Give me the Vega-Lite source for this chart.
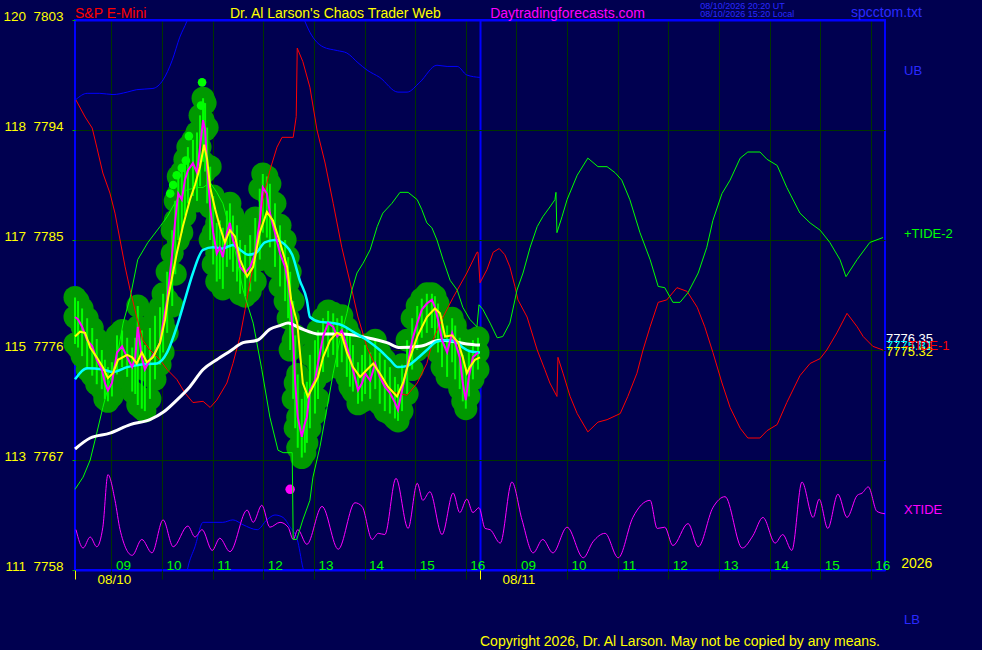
{
  "$schema": "https://vega.github.io/schema/vega-lite/v6.json",
  "width": 810,
  "height": 550,
  "autosize": "none",
  "padding": {"left": 75, "top": 20, "right": 97, "bottom": 80},
  "background": "#000050",
  "datasets": {
    "price": [
      {"t":0,"p":7778.7,"h":7780.3,"l":7776.5},{"t":0.06,"p":7778.5,"h":7780.0,"l":7776.2},{"t":0.14,"p":7777.9,"h":7779.4,"l":7775.5},
      {"t":0.24,"p":7776.8,"h":7778.6,"l":7774.4},{"t":0.34,"p":7776.3,"h":7777.8,"l":7773.9},{"t":0.43,"p":7775.2,"h":7776.9,"l":7773.2},
      {"t":0.53,"p":7774.4,"h":7776.0,"l":7772.8},{"t":0.59,"p":7773.3,"h":7775.2,"l":7772.0},{"t":0.65,"p":7772.7,"h":7774.6,"l":7771.8},
      {"t":0.73,"p":7773.3,"h":7775.0,"l":7772.2},{"t":0.83,"p":7775.8,"h":7777.2,"l":7774.0},{"t":0.93,"p":7776.3,"h":7777.6,"l":7774.6},
      {"t":1.03,"p":7775.4,"h":7777.0,"l":7773.8},{"t":1.13,"p":7774.6,"h":7776.2,"l":7772.6},{"t":1.19,"p":7775.4,"h":7777.0,"l":7772.4},
      {"t":1.24,"p":7777.9,"h":7779.6,"l":7771.5},{"t":1.32,"p":7775.4,"h":7777.6,"l":7771.2},{"t":1.38,"p":7774.4,"h":7776.4,"l":7771.0},
      {"t":1.48,"p":7775.2,"h":7777.8,"l":7772.0},{"t":1.58,"p":7775.8,"h":7778.8,"l":7773.6},{"t":1.68,"p":7776.6,"h":7779.5,"l":7774.8},
      {"t":1.74,"p":7778.2,"h":7780.6,"l":7775.8},{"t":1.82,"p":7780.1,"h":7782.4,"l":7777.4},{"t":1.92,"p":7783.9,"h":7785.8,"l":7779.6},
      {"t":1.98,"p":7786.6,"h":7788.2,"l":7782.2},{"t":2.04,"p":7788.8,"h":7790.2,"l":7785.0},{"t":2.11,"p":7788.3,"h":7790.6,"l":7785.6},
      {"t":2.17,"p":7789.9,"h":7791.6,"l":7787.0},{"t":2.23,"p":7790.7,"h":7792.6,"l":7788.0},{"t":2.33,"p":7791.3,"h":7793.2,"l":7788.6},
      {"t":2.41,"p":7790.5,"h":7793.8,"l":7788.2},{"t":2.47,"p":7792.6,"h":7795.2,"l":7789.4},{"t":2.53,"p":7794.8,"h":7796.6,"l":7791.4},
      {"t":2.57,"p":7794.0,"h":7796.2,"l":7790.6},{"t":2.61,"p":7791.0,"h":7794.2,"l":7788.0},{"t":2.67,"p":7787.7,"h":7791.0,"l":7785.0},
      {"t":2.73,"p":7785.6,"h":7788.6,"l":7783.0},{"t":2.80,"p":7783.9,"h":7786.4,"l":7781.6},{"t":2.86,"p":7784.4,"h":7786.6,"l":7781.8},
      {"t":2.92,"p":7783.6,"h":7786.0,"l":7781.0},{"t":3.00,"p":7785.6,"h":7787.4,"l":7782.8},{"t":3.06,"p":7786.4,"h":7788.0,"l":7783.4},
      {"t":3.12,"p":7785.0,"h":7787.0,"l":7782.4},{"t":3.20,"p":7784.2,"h":7786.2,"l":7781.6},{"t":3.26,"p":7782.8,"h":7785.0,"l":7780.6},
      {"t":3.36,"p":7782.3,"h":7784.6,"l":7780.4},{"t":3.46,"p":7782.8,"h":7785.4,"l":7780.8},{"t":3.56,"p":7783.9,"h":7786.8,"l":7781.6},
      {"t":3.65,"p":7786.6,"h":7789.2,"l":7783.4},{"t":3.71,"p":7789.3,"h":7790.4,"l":7785.6},{"t":3.79,"p":7788.8,"h":7790.2,"l":7785.2},
      {"t":3.85,"p":7787.2,"h":7789.6,"l":7784.4},{"t":3.95,"p":7785.6,"h":7788.0,"l":7782.8},{"t":4.05,"p":7783.9,"h":7786.2,"l":7781.2},
      {"t":4.15,"p":7782.8,"h":7785.0,"l":7780.0},{"t":4.21,"p":7781.5,"h":7783.6,"l":7778.6},{"t":4.25,"p":7780.3,"h":7782.4,"l":7776.0},
      {"t":4.31,"p":7776.8,"h":7780.0,"l":7772.0},{"t":4.35,"p":7773.3,"h":7777.2,"l":7769.6},{"t":4.40,"p":7770.5,"h":7774.0,"l":7768.0},
      {"t":4.48,"p":7768.9,"h":7772.0,"l":7767.2},{"t":4.54,"p":7770.0,"h":7772.6,"l":7767.6},{"t":4.58,"p":7770.5,"h":7773.4,"l":7768.4},
      {"t":4.64,"p":7772.7,"h":7775.6,"l":7769.6},{"t":4.74,"p":7773.5,"h":7776.8,"l":7770.8},{"t":4.80,"p":7774.9,"h":7777.6,"l":7772.0},
      {"t":4.90,"p":7777.1,"h":7778.6,"l":7774.2},{"t":5.00,"p":7778.2,"h":7779.2,"l":7775.4},{"t":5.10,"p":7777.9,"h":7779.0,"l":7775.6},
      {"t":5.18,"p":7777.1,"h":7778.6,"l":7774.6},{"t":5.27,"p":7777.6,"h":7778.8,"l":7775.0},{"t":5.37,"p":7776.3,"h":7777.8,"l":7773.8},
      {"t":5.43,"p":7775.4,"h":7777.2,"l":7773.0},{"t":5.49,"p":7774.4,"h":7776.4,"l":7772.6},{"t":5.59,"p":7772.7,"h":7775.0,"l":7771.6},
      {"t":5.67,"p":7773.3,"h":7775.6,"l":7771.8},{"t":5.73,"p":7774.1,"h":7776.4,"l":7772.4},{"t":5.83,"p":7773.5,"h":7775.8,"l":7772.0},
      {"t":5.93,"p":7774.9,"h":7776.8,"l":7772.8},{"t":6.02,"p":7773.8,"h":7775.8,"l":7771.6},{"t":6.12,"p":7773.0,"h":7775.2,"l":7771.0},
      {"t":6.22,"p":7772.5,"h":7774.6,"l":7770.8},{"t":6.32,"p":7771.7,"h":7773.8,"l":7770.4},{"t":6.38,"p":7771.1,"h":7773.2,"l":7770.2},
      {"t":6.46,"p":7772.7,"h":7774.8,"l":7771.0},{"t":6.56,"p":7774.6,"h":7776.8,"l":7772.4},{"t":6.66,"p":7776.8,"h":7778.6,"l":7774.4},
      {"t":6.76,"p":7778.2,"h":7779.6,"l":7776.0},{"t":6.85,"p":7779.3,"h":7780.2,"l":7777.0},{"t":6.95,"p":7779.8,"h":7780.6,"l":7777.4},
      {"t":7.05,"p":7780.1,"h":7780.6,"l":7777.8},{"t":7.11,"p":7779.5,"h":7780.4,"l":7777.0},{"t":7.17,"p":7778.5,"h":7779.8,"l":7775.8},
      {"t":7.25,"p":7776.8,"h":7778.8,"l":7774.6},{"t":7.35,"p":7775.8,"h":7778.0,"l":7773.8},{"t":7.45,"p":7777.4,"h":7778.6,"l":7775.0},
      {"t":7.51,"p":7776.6,"h":7778.0,"l":7773.6},{"t":7.60,"p":7775.4,"h":7777.0,"l":7772.8},{"t":7.66,"p":7773.3,"h":7775.6,"l":7771.8},
      {"t":7.72,"p":7771.9,"h":7774.6,"l":7771.2},{"t":7.78,"p":7773.8,"h":7776.0,"l":7772.2},{"t":7.86,"p":7775.4,"h":7776.8,"l":7773.6},
      {"t":7.96,"p":7775.8,"h":7777.0,"l":7774.4}
    ],
    "highs": [
      {"t":2.51,"p":7797.9},{"t":2.49,"p":7796.0},{"t":2.25,"p":7793.5},{"t":2.19,"p":7791.5},
      {"t":2.11,"p":7790.9},{"t":2.01,"p":7790.3},{"t":1.94,"p":7789.5},{"t":1.88,"p":7788.8}
    ],
    "signal": [{"t":4.25,"p":7764.6}],
    "tide1": [
      {"t":0.02,"p":7796.45},{"t":0.20,"p":7795.06},{"t":0.34,"p":7794.16},{"t":0.43,"p":7792.6},{"t":0.55,"p":7790.48},
      {"t":0.69,"p":7788.84},{"t":0.79,"p":7787.2},{"t":0.89,"p":7785.0},{"t":0.99,"p":7782.8},{"t":1.09,"p":7780.9},
      {"t":1.22,"p":7778.7},{"t":1.34,"p":7776.8},{"t":1.48,"p":7776.0},{"t":1.68,"p":7775.2},{"t":1.82,"p":7774.4},
      {"t":2.01,"p":7773.6},{"t":2.17,"p":7772.5},{"t":2.33,"p":7771.7},{"t":2.53,"p":7771.8},{"t":2.67,"p":7771.3},
      {"t":2.80,"p":7771.9},{"t":3.00,"p":7773.3},{"t":3.12,"p":7774.9},{"t":3.26,"p":7777.1},{"t":3.36,"p":7779.3},
      {"t":3.44,"p":7781.2},{"t":3.60,"p":7784.4},{"t":3.71,"p":7788.3},{"t":3.85,"p":7790.7},{"t":3.99,"p":7792.6},
      {"t":4.09,"p":7793.4},{"t":4.31,"p":7793.4},{"t":4.37,"p":7795.1},{"t":4.39,"p":7800.7},{"t":4.50,"p":7799.6},
      {"t":4.64,"p":7797.5},{"t":4.78,"p":7794.0},{"t":4.94,"p":7791.3},{"t":5.10,"p":7788.0},{"t":5.27,"p":7784.4},
      {"t":5.39,"p":7782.3},{"t":5.47,"p":7780.9},{"t":5.59,"p":7778.7},{"t":5.77,"p":7776.2},{"t":5.97,"p":7774.4},
      {"t":6.12,"p":7773.3},{"t":6.32,"p":7772.5},{"t":6.56,"p":7772.3},{"t":6.76,"p":7773.3},{"t":6.95,"p":7774.9},
      {"t":7.07,"p":7776.8},{"t":7.27,"p":7778.7},{"t":7.47,"p":7780.3},{"t":7.74,"p":7782.3},{"t":7.94,"p":7784.0},
      {"t":7.96,"p":7784.0},{"t":8.00,"p":7781.5},{"t":8.14,"p":7782.6},{"t":8.26,"p":7784.0},{"t":8.38,"p":7784.3},
      {"t":8.49,"p":7783.8},{"t":8.59,"p":7782.8},{"t":8.69,"p":7781.2},{"t":8.75,"p":7780.1},{"t":8.93,"p":7778.7},
      {"t":9.13,"p":7776.0},{"t":9.28,"p":7774.4},{"t":9.38,"p":7773.3},{"t":9.52,"p":7772.2},{"t":9.54,"p":7775.4},
      {"t":9.64,"p":7774.1},{"t":9.78,"p":7772.2},{"t":9.92,"p":7770.8},{"t":10.13,"p":7769.3},{"t":10.33,"p":7770.1},
      {"t":10.51,"p":7770.3},{"t":10.77,"p":7770.8},{"t":10.92,"p":7772.2},{"t":11.10,"p":7774.1},{"t":11.22,"p":7776.0},
      {"t":11.36,"p":7777.9},{"t":11.52,"p":7779.9},{"t":11.69,"p":7780.1},{"t":11.89,"p":7781.1},{"t":12.09,"p":7780.8},
      {"t":12.29,"p":7779.5},{"t":12.44,"p":7777.9},{"t":12.60,"p":7775.8},{"t":12.78,"p":7773.3},{"t":12.94,"p":7771.3},
      {"t":13.14,"p":7769.6},{"t":13.29,"p":7768.8},{"t":13.53,"p":7768.8},{"t":13.67,"p":7769.4},{"t":13.87,"p":7769.9},
      {"t":14.06,"p":7771.7},{"t":14.32,"p":7773.9},{"t":14.52,"p":7774.9},{"t":14.72,"p":7775.3},{"t":14.85,"p":7776.0},
      {"t":15.05,"p":7777.4},{"t":15.25,"p":7779.0},{"t":15.45,"p":7777.9},{"t":15.57,"p":7777.1},{"t":15.76,"p":7776.3},
      {"t":15.96,"p":7776.0}
    ],
    "tide2": [
      {"t":0,"p":7764.6},{"t":0.16,"p":7765.6},{"t":0.30,"p":7767.0},{"t":0.43,"p":7769.2},{"t":0.55,"p":7771.3},
      {"t":0.69,"p":7773.5},{"t":0.83,"p":7775.4},{"t":0.95,"p":7778.2},{"t":1.09,"p":7780.3},{"t":1.24,"p":7783.4},
      {"t":1.44,"p":7784.8},{"t":1.68,"p":7786.1},{"t":1.82,"p":7786.9},{"t":2.01,"p":7788.3},{"t":2.21,"p":7789.1},
      {"t":2.41,"p":7789.3},{"t":2.53,"p":7789.3},{"t":2.67,"p":7789.7},{"t":2.80,"p":7788.9},{"t":2.92,"p":7788.0},
      {"t":3.12,"p":7785.0},{"t":3.32,"p":7780.9},{"t":3.52,"p":7778.2},{"t":3.69,"p":7774.4},{"t":3.85,"p":7770.5},
      {"t":4.01,"p":7767.8},{"t":4.11,"p":7767.6},{"t":4.29,"p":7767.6},{"t":4.31,"p":7760.5},{"t":4.38,"p":7760.5},
      {"t":4.50,"p":7762.1},{"t":4.64,"p":7763.7},{"t":4.70,"p":7765.6},{"t":4.84,"p":7768.1},{"t":4.98,"p":7771.3},
      {"t":5.10,"p":7774.1},{"t":5.23,"p":7776.8},{"t":5.37,"p":7779.0},{"t":5.47,"p":7780.9},{"t":5.57,"p":7782.3},
      {"t":5.69,"p":7783.1},{"t":5.83,"p":7784.2},{"t":5.97,"p":7786.1},{"t":6.08,"p":7787.2},{"t":6.26,"p":7788.0},
      {"t":6.42,"p":7788.9},{"t":6.58,"p":7788.9},{"t":6.76,"p":7788.3},{"t":6.85,"p":7787.5},{"t":6.95,"p":7786.4},
      {"t":7.05,"p":7786.0},{"t":7.15,"p":7785.0},{"t":7.27,"p":7783.4},{"t":7.41,"p":7781.7},{"t":7.55,"p":7780.9},
      {"t":7.66,"p":7779.5},{"t":7.80,"p":7778.5},{"t":7.94,"p":7777.9},{"t":7.98,"p":7779.7},{"t":8.06,"p":7779.3},
      {"t":8.20,"p":7778.2},{"t":8.34,"p":7777.0},{"t":8.45,"p":7777.1},{"t":8.59,"p":7778.2},{"t":8.69,"p":7780.1},
      {"t":8.73,"p":7780.9},{"t":8.85,"p":7782.3},{"t":8.99,"p":7784.4},{"t":9.13,"p":7786.1},{"t":9.24,"p":7786.9},
      {"t":9.38,"p":7787.7},{"t":9.48,"p":7788.3},{"t":9.50,"p":7788.9},{"t":9.52,"p":7785.6},{"t":9.62,"p":7786.9},
      {"t":9.72,"p":7788.3},{"t":9.92,"p":7790.3},{"t":10.13,"p":7791.7},{"t":10.33,"p":7791.0},{"t":10.51,"p":7791.0},
      {"t":10.67,"p":7790.5},{"t":10.80,"p":7789.9},{"t":10.96,"p":7788.3},{"t":11.16,"p":7785.6},{"t":11.36,"p":7783.4},
      {"t":11.52,"p":7781.2},{"t":11.65,"p":7781.1},{"t":11.81,"p":7779.9},{"t":11.95,"p":7779.9},{"t":12.11,"p":7780.7},
      {"t":12.31,"p":7782.3},{"t":12.48,"p":7784.4},{"t":12.60,"p":7786.6},{"t":12.78,"p":7788.8},{"t":12.94,"p":7789.9},
      {"t":13.14,"p":7791.7},{"t":13.29,"p":7792.2},{"t":13.53,"p":7792.2},{"t":13.67,"p":7791.6},{"t":13.87,"p":7791.1},
      {"t":14.06,"p":7789.3},{"t":14.32,"p":7787.2},{"t":14.52,"p":7786.4},{"t":14.72,"p":7785.8},{"t":14.91,"p":7784.8},
      {"t":15.11,"p":7783.4},{"t":15.23,"p":7782.0},{"t":15.45,"p":7783.4},{"t":15.70,"p":7784.8},{"t":15.96,"p":7785.2}
    ],
    "ub": [
      {"t":0.02,"p":7796.5},{"t":0.24,"p":7797.0},{"t":0.49,"p":7797.0},{"t":0.75,"p":7796.9},{"t":1.03,"p":7797.1},
      {"t":1.22,"p":7797.3},{"t":1.54,"p":7797.4},{"t":1.74,"p":7798.1},{"t":1.92,"p":7799.7},{"t":2.07,"p":7801.6},
      {"t":2.21,"p":7802.9},{"t":2.47,"p":7806.5},{"t":3.26,"p":7809.0},{"t":4.05,"p":7807.5},{"t":4.44,"p":7804.0},
      {"t":4.54,"p":7802.9},{"t":4.64,"p":7802.0},{"t":4.90,"p":7800.8},{"t":5.18,"p":7800.5},{"t":5.37,"p":7800.3},
      {"t":5.59,"p":7799.5},{"t":5.77,"p":7798.9},{"t":6.02,"p":7798.3},{"t":6.38,"p":7797.1},{"t":6.56,"p":7797.1},
      {"t":6.81,"p":7797.9},{"t":7.15,"p":7799.3},{"t":7.35,"p":7799.2},{"t":7.55,"p":7799.2},{"t":7.74,"p":7798.5},
      {"t":8.0,"p":7798.3}
    ],
    "lb": [
      {"t":2.15,"p":7756.4},{"t":2.23,"p":7758.2},{"t":2.37,"p":7759.9},{"t":2.53,"p":7761.9},{"t":2.73,"p":7761.9},
      {"t":2.92,"p":7761.9},{"t":3.12,"p":7762.1},{"t":3.32,"p":7761.7},{"t":3.60,"p":7761.3},{"t":3.79,"p":7762.1},
      {"t":3.95,"p":7762.5},{"t":4.11,"p":7762.3},{"t":4.25,"p":7761.5},{"t":4.39,"p":7760.5},{"t":4.50,"p":7758.2},
      {"t":4.60,"p":7756.4}
    ],
    "xtide": [
      {"t":0.02,"p":7761.3},{"t":0.16,"p":7759.8},{"t":0.30,"p":7760.7},{"t":0.43,"p":7759.9},{"t":0.55,"p":7761.5},
      {"t":0.65,"p":7765.8},{"t":0.79,"p":7763.7},{"t":0.89,"p":7761.3},{"t":1.13,"p":7759.2},{"t":1.32,"p":7760.5},
      {"t":1.52,"p":7759.4},{"t":1.74,"p":7762.1},{"t":1.94,"p":7759.9},{"t":2.23,"p":7761.6},{"t":2.37,"p":7760.7},
      {"t":2.51,"p":7761.3},{"t":2.71,"p":7759.6},{"t":2.86,"p":7760.6},{"t":3.06,"p":7759.5},{"t":3.40,"p":7762.9},
      {"t":3.52,"p":7761.9},{"t":3.69,"p":7763.3},{"t":3.85,"p":7761.5},{"t":4.05,"p":7761.9},{"t":4.21,"p":7761.5},
      {"t":4.31,"p":7760.5},{"t":4.40,"p":7761.3},{"t":4.58,"p":7760.1},{"t":4.88,"p":7763.2},{"t":5.20,"p":7759.7},
      {"t":5.53,"p":7763.5},{"t":5.67,"p":7763.2},{"t":5.87,"p":7760.5},{"t":5.99,"p":7761.0},{"t":6.12,"p":7760.9},
      {"t":6.34,"p":7765.5},{"t":6.58,"p":7761.4},{"t":6.76,"p":7765.1},{"t":6.87,"p":7763.7},{"t":7.01,"p":7764.4},
      {"t":7.25,"p":7760.9},{"t":7.47,"p":7764.3},{"t":7.60,"p":7762.7},{"t":7.74,"p":7763.8},{"t":7.86,"p":7762.7},
      {"t":7.98,"p":7763.1},{"t":8.10,"p":7761.4},{"t":8.20,"p":7761.3},{"t":8.40,"p":7760.2},{"t":8.63,"p":7765.2},
      {"t":8.83,"p":7762.1},{"t":9.05,"p":7759.4},{"t":9.24,"p":7760.5},{"t":9.44,"p":7759.4},{"t":9.72,"p":7761.5},
      {"t":10.04,"p":7759.0},{"t":10.23,"p":7760.3},{"t":10.47,"p":7761.0},{"t":10.73,"p":7759.0},{"t":11.02,"p":7762.3},
      {"t":11.36,"p":7763.7},{"t":11.50,"p":7761.4},{"t":11.65,"p":7761.5},{"t":11.81,"p":7760.0},{"t":12.11,"p":7761.8},
      {"t":12.31,"p":7759.9},{"t":12.60,"p":7763.1},{"t":12.84,"p":7764.0},{"t":13.18,"p":7759.8},{"t":13.39,"p":7760.8},
      {"t":13.59,"p":7762.3},{"t":13.83,"p":7760.2},{"t":13.98,"p":7760.9},{"t":14.16,"p":7759.6},{"t":14.36,"p":7765.2},
      {"t":14.58,"p":7762.3},{"t":14.70,"p":7763.8},{"t":14.87,"p":7761.4},{"t":15.07,"p":7764.2},{"t":15.25,"p":7762.3},
      {"t":15.45,"p":7764.1},{"t":15.55,"p":7764.3},{"t":15.67,"p":7764.8},{"t":15.84,"p":7762.8},{"t":16.0,"p":7762.6}
    ],
    "slow": [
      {"t":0,"p":7767.9},{"t":0.30,"p":7768.8},{"t":0.69,"p":7769.2},{"t":1.09,"p":7769.9},{"t":1.48,"p":7770.3},
      {"t":1.74,"p":7770.9},{"t":2.01,"p":7771.9},{"t":2.27,"p":7773.0},{"t":2.53,"p":7774.4},{"t":2.80,"p":7775.2},
      {"t":3.06,"p":7775.9},{"t":3.32,"p":7776.6},{"t":3.60,"p":7776.8},{"t":3.85,"p":7777.7},{"t":4.05,"p":7778.0},
      {"t":4.21,"p":7778.2},{"t":4.44,"p":7777.8},{"t":4.84,"p":7777.3},{"t":5.29,"p":7777.3},{"t":5.77,"p":7777.0},
      {"t":6.16,"p":7776.6},{"t":6.42,"p":7776.2},{"t":6.81,"p":7776.3},{"t":7.21,"p":7776.8},{"t":7.47,"p":7776.7},
      {"t":7.74,"p":7776.5},{"t":8.0,"p":7776.4}
    ],
    "mid": [
      {"t":0,"p":7773.6},{"t":0.24,"p":7774.5},{"t":0.55,"p":7774.4},{"t":0.75,"p":7774.2},{"t":1.03,"p":7774.6},
      {"t":1.28,"p":7774.8},{"t":1.62,"p":7774.9},{"t":1.82,"p":7775.8},{"t":2.01,"p":7777.9},{"t":2.17,"p":7780.1},
      {"t":2.33,"p":7782.3},{"t":2.53,"p":7784.2},{"t":2.73,"p":7784.4},{"t":2.92,"p":7784.3},{"t":3.12,"p":7784.6},
      {"t":3.26,"p":7784.2},{"t":3.42,"p":7783.8},{"t":3.56,"p":7783.9},{"t":3.75,"p":7784.8},{"t":3.95,"p":7785.0},
      {"t":4.15,"p":7784.6},{"t":4.29,"p":7783.8},{"t":4.44,"p":7781.7},{"t":4.58,"p":7780.1},{"t":4.64,"p":7778.7},
      {"t":4.84,"p":7778.3},{"t":5.10,"p":7778.2},{"t":5.29,"p":7778.0},{"t":5.49,"p":7777.5},{"t":5.77,"p":7776.8},
      {"t":6.02,"p":7776.0},{"t":6.22,"p":7775.2},{"t":6.38,"p":7774.6},{"t":6.56,"p":7774.7},{"t":6.76,"p":7775.3},
      {"t":6.95,"p":7776.0},{"t":7.15,"p":7776.7},{"t":7.35,"p":7776.8},{"t":7.55,"p":7776.6},{"t":7.66,"p":7776.2},
      {"t":7.80,"p":7775.9},{"t":8.0,"p":7775.8}
    ],
    "fast": [
      {"t":0,"p":7777.1},{"t":0.10,"p":7777.5},{"t":0.20,"p":7777.4},{"t":0.30,"p":7776.2},{"t":0.43,"p":7775.4},
      {"t":0.55,"p":7774.6},{"t":0.65,"p":7773.7},{"t":0.75,"p":7774.1},{"t":0.85,"p":7775.2},{"t":1.03,"p":7775.6},
      {"t":1.13,"p":7775.4},{"t":1.22,"p":7774.9},{"t":1.32,"p":7775.8},{"t":1.42,"p":7775.0},{"t":1.54,"p":7775.4},
      {"t":1.68,"p":7776.6},{"t":1.78,"p":7778.5},{"t":1.84,"p":7780.3},{"t":2.01,"p":7783.9},{"t":2.13,"p":7786.1},
      {"t":2.27,"p":7788.3},{"t":2.37,"p":7789.5},{"t":2.47,"p":7791.0},{"t":2.55,"p":7792.8},{"t":2.61,"p":7791.6},
      {"t":2.67,"p":7789.3},{"t":2.77,"p":7787.5},{"t":2.86,"p":7786.1},{"t":2.96,"p":7784.8},{"t":3.06,"p":7785.8},
      {"t":3.16,"p":7785.3},{"t":3.26,"p":7783.4},{"t":3.40,"p":7782.0},{"t":3.52,"p":7782.8},{"t":3.65,"p":7785.6},
      {"t":3.79,"p":7787.3},{"t":3.91,"p":7786.6},{"t":4.05,"p":7784.8},{"t":4.19,"p":7782.8},{"t":4.27,"p":7780.1},
      {"t":4.39,"p":7778.2},{"t":4.50,"p":7773.3},{"t":4.60,"p":7772.2},{"t":4.70,"p":7773.0},{"t":4.80,"p":7773.8},
      {"t":4.90,"p":7775.4},{"t":5.04,"p":7776.8},{"t":5.17,"p":7777.4},{"t":5.27,"p":7777.2},{"t":5.37,"p":7775.8},
      {"t":5.49,"p":7774.6},{"t":5.63,"p":7773.8},{"t":5.77,"p":7774.4},{"t":5.89,"p":7774.9},{"t":6.02,"p":7774.1},
      {"t":6.18,"p":7773.0},{"t":6.36,"p":7772.2},{"t":6.48,"p":7773.3},{"t":6.62,"p":7775.4},{"t":6.76,"p":7777.1},
      {"t":6.95,"p":7778.7},{"t":7.11,"p":7779.4},{"t":7.21,"p":7779.0},{"t":7.31,"p":7777.1},{"t":7.45,"p":7777.2},
      {"t":7.57,"p":7776.6},{"t":7.66,"p":7775.4},{"t":7.74,"p":7774.1},{"t":7.80,"p":7774.6},{"t":7.90,"p":7775.2},
      {"t":8.0,"p":7775.4}
    ],
    "notes": [
      {"t":0,"p":7803.17,"text":"S&P E-Mini","role":"symbol"},
      {"t":3.06,"p":7803.17,"text":"Dr. Al Larson's Chaos Trader Web","role":"brand"},
      {"t":8.2,"p":7803.2,"text":"Daytradingforecasts.com","role":"site"},
      {"t":15.33,"p":7803.27,"text":"spcctom.txt","role":"file"},
      {"t":8.0,"p":7751.8,"text":"Copyright 2026, Dr. Al Larson. May not be copied by any means.","role":"brand"},
      {"t":16.32,"p":7758.2,"text":"2026","role":"brand"}
    ],
    "stamps": [
      {"t":12.35,"p":7803.94,"text":"08/10/2026 20:20 UT"},
      {"t":12.35,"p":7803.25,"text":"08/10/2026 15:20 Local"}
    ],
    "values": [
      {"t":16,"p":7776.9,"text":"7776.35","role":"slow"},
      {"t":16,"p":7776.3,"text":"7775.81","role":"mid"},
      {"t":16,"p":7775.8,"text":"7775.32","role":"fast"}
    ],
    "names": [
      {"t":16,"p":7798.8,"text":"UB","role":"ub"},
      {"t":16,"p":7785.5,"text":"+TIDE-2","role":"tide2"},
      {"t":16,"p":7776.3,"text":"-TIDE-1","role":"tide1"},
      {"t":16,"p":7762.9,"text":"XTIDE","role":"xtide"},
      {"t":16,"p":7753.9,"text":"LB","role":"lb"}
    ]
  },
  "encoding": {
    "x": {
      "field": "t",
      "type": "quantitative",
      "scale": {"domain": [0, 16], "nice": false, "zero": false},
      "axis": {
        "values": [0, 0.72, 1.72, 2.72, 3.72, 4.72, 5.72, 6.72, 7.72, 8, 8.72, 9.72, 10.72, 11.72, 12.72, 13.72, 14.72, 15.72],
        "title": null,
        "domain": false,
        "grid": true,
        "gridColor": {"condition": {"test": "datum.value == 0 || datum.value == 8", "value": "#0000ff"}, "value": "#003300"},
        "gridWidth": {"condition": {"test": "datum.value == 8", "value": 2}, "value": 1},
        "tickSize": 9,
        "tickColor": {"condition": {"test": "datum.value == 0 || datum.value == 8", "value": "#ffff00"}, "value": "#003300"},
        "labelExpr": "datum.value == 0 ? '08/10' : datum.value == 8 ? '08/11' : format(round(datum.value % 8 + 8.28), '02d')",
        "labelColor": {"condition": {"test": "datum.value == 0 || datum.value == 8", "value": "#ffff00"}, "value": "#00ff00"},
        "labelAlign": "left",
        "labelBaseline": "alphabetic",
        "labelPadding": {"condition": {"test": "datum.value == 0 || datum.value == 8", "value": 4}, "value": -10},
        "labelOffset": {"condition": {"test": "datum.value == 0 || datum.value == 8", "value": 22}, "value": 4},
        "labelFontSize": 13.5,
        "labelOverlap": false,
        "labelFlush": false
      }
    },
    "y": {
      "field": "p",
      "type": "quantitative",
      "scale": {"domain": [7758, 7803], "nice": false, "zero": false},
      "axis": {
        "values": [7758, 7767, 7776, 7785, 7794, 7803],
        "title": null,
        "domain": false,
        "grid": true,
        "gridColor": {"condition": {"test": "datum.value == 7758 || datum.value == 7803", "value": "#0000ff"}, "value": "#003300"},
        "gridWidth": {"condition": {"test": "datum.value == 7758 || datum.value == 7803", "value": 2}, "value": 1},
        "tickSize": 3,
        "tickColor": "#00aa00",
        "labelColor": "#ffff00",
        "labelFontSize": 13.5,
        "labelPadding": 9,
        "labelBaseline": "alphabetic",
        "labelExpr": "(datum.value == 7803 ? '120' : datum.value == 7794 ? '118' : datum.value == 7785 ? '117' : datum.value == 7776 ? '115' : datum.value == 7767 ? '113' : '111') + '\u00a0 ' + datum.value",
        "labelOverlap": false,
        "labelFlush": false
      }
    }
  },
  "layer": [
    {
      "data": {"name": "price"},
      "transform": [{"fold": ["p", "h", "l"], "as": ["k", "p"]}],
      "mark": {"type": "circle", "size": 530, "color": "#009900", "opacity": 1}
    },
    {
      "data": {"name": "price"},
      "transform": [{"fold": ["h"], "as": ["k", "p"]}],
      "mark": {"type": "rule", "color": "#00ff00", "strokeWidth": 2},
      "encoding": {
        "y2": {"field": "l"}
      }
    },
    {
      "data": {"name": "highs"},
      "mark": {"type": "circle", "size": 75, "color": "#00ff00", "opacity": 1}
    },
    {
      "data": {"name": "signal"},
      "mark": {"type": "circle", "size": 90, "color": "#ff00ff", "opacity": 1}
    },
    {
      "data": {"name": "ub"},
      "mark": {"type": "line", "color": "#0000ff", "strokeWidth": 1, "clip": true, "interpolate": "monotone"}
    },
    {
      "data": {"name": "lb"},
      "mark": {"type": "line", "color": "#0000ff", "strokeWidth": 1, "clip": true, "interpolate": "monotone"}
    },
    {
      "data": {"name": "xtide"},
      "mark": {"type": "line", "color": "#ff00ff", "strokeWidth": 1, "interpolate": "monotone"}
    },
    {
      "data": {"name": "tide1"},
      "mark": {"type": "line", "color": "#ff0000", "strokeWidth": 1}
    },
    {
      "data": {"name": "tide2"},
      "mark": {"type": "line", "color": "#00ff00", "strokeWidth": 1}
    },
    {
      "data": {"name": "slow"},
      "mark": {"type": "line", "color": "#ffffff", "strokeWidth": 3, "interpolate": "monotone"}
    },
    {
      "data": {"name": "mid"},
      "mark": {"type": "line", "color": "#00ffff", "strokeWidth": 2.5, "interpolate": "monotone"}
    },
    {
      "data": {"name": "price"},
      "mark": {"type": "line", "color": "#ff00ff", "strokeWidth": 2}
    },
    {
      "data": {"name": "fast"},
      "mark": {"type": "line", "color": "#ffff00", "strokeWidth": 2}
    },
    {
      "data": {"name": "values"},
      "mark": {"type": "text", "align": "left", "baseline": "middle", "dx": 1, "fontSize": 13},
      "encoding": {
        "text": {"field": "text"},
        "color": {"field": "role", "type": "nominal", "legend": null,
          "scale": {"domain": ["symbol","brand","site","file","ub","tide2","tide1","xtide","lb","slow","mid","fast"],
                    "range": ["#ff0000","#ffff00","#ff00ff","#2a2aff","#2a2aff","#00ff00","#ff0000","#ff00ff","#2a2aff","#ffffff","#00ffff","#ffff00"]}}
      }
    },
    {
      "data": {"name": "names"},
      "mark": {"type": "text", "align": "left", "baseline": "middle", "dx": 19, "fontSize": 13},
      "encoding": {
        "text": {"field": "text"},
        "color": {"field": "role", "type": "nominal", "legend": null,
          "scale": {"domain": ["symbol","brand","site","file","ub","tide2","tide1","xtide","lb","slow","mid","fast"],
                    "range": ["#ff0000","#ffff00","#ff00ff","#2a2aff","#2a2aff","#00ff00","#ff0000","#ff00ff","#2a2aff","#ffffff","#00ffff","#ffff00"]}}
      }
    },
    {
      "data": {"name": "notes"},
      "mark": {"type": "text", "align": "left", "baseline": "alphabetic", "fontSize": 14},
      "encoding": {
        "text": {"field": "text"},
        "color": {"field": "role", "type": "nominal", "legend": null,
          "scale": {"domain": ["symbol","brand","site","file","ub","tide2","tide1","xtide","lb","slow","mid","fast"],
                    "range": ["#ff0000","#ffff00","#ff00ff","#2a2aff","#2a2aff","#00ff00","#ff0000","#ff00ff","#2a2aff","#ffffff","#00ffff","#ffff00"]}}
      }
    },
    {
      "data": {"name": "stamps"},
      "mark": {"type": "text", "align": "left", "baseline": "alphabetic", "fontSize": 9, "color": "#2a2aff"},
      "encoding": {"text": {"field": "text"}}
    }
  ],
  "config": {
    "font": "Liberation Sans",
    "view": {"stroke": "#0000ff", "strokeWidth": 2},
    "axis": {"labelFont": "Liberation Sans"},
    "text": {"font": "Liberation Sans"}
  }
}
